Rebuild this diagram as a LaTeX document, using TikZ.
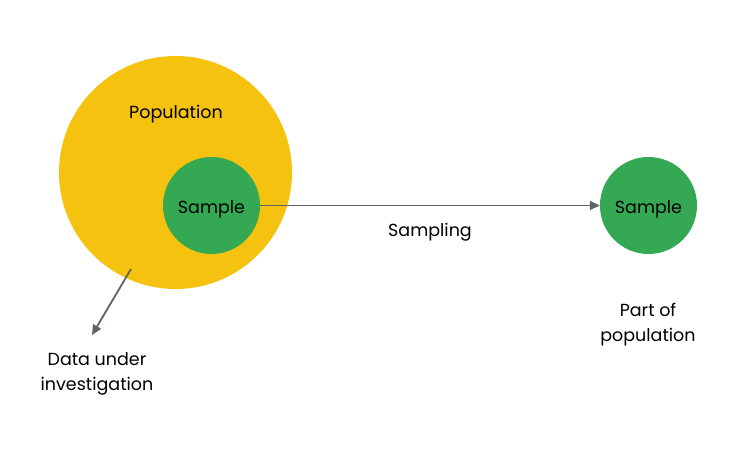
\documentclass[tikz,border=0pt]{standalone}
\usepackage{fontspec}
\setmainfont{Poppins}
\usetikzlibrary{arrows.meta}
\definecolor{popyellow}{HTML}{F4C20F}
\definecolor{sampgreen}{HTML}{34A853}
\definecolor{arrowgray}{HTML}{5F6368}
\tikzset{
  lbl/.style={font=\fontsize{17.5}{25}\selectfont, text=black, align=center, inner sep=0pt, yshift=-3.5pt},
  conn/.style={draw=arrowgray, line width=1.8pt, -{Triangle[length=10pt,width=9pt]}},
  samp/.style={circle, fill=sampgreen, minimum size=97pt, inner sep=0pt}
}
\begin{document}
\begin{tikzpicture}[x=1pt,y=-1pt]
\useasboundingbox (0,0) rectangle (737,454);
\fill[white] (0,0) rectangle (737,454);
\node[circle, fill=popyellow, minimum size=233pt, inner sep=0pt] (pop) at (175.5,172.5) {};
\node[lbl] (poplbl) at (176,111) {Population};
\node[samp] (s1) at (211.5,205.5) {};
\node[lbl] (s1lbl) at (s1.center) {Sample};
\node[samp] (s2) at (648.5,205.5) {};
\node[lbl] (s2lbl) at (s2.center) {Sample};
\draw[conn] (s1.east) -- (s2.west);
\node[lbl] (sampling) at (430,229) {Sampling};
\coordinate (dstart) at (131,269);
\node[lbl] (data) at (97,370) {Data under\\investigation};
\coordinate (dend) at (92,335);
\draw[conn] (dstart) -- (dend);
\node[lbl] (part) at (648,321) {Part of\\population};
\end{tikzpicture}
\end{document}
